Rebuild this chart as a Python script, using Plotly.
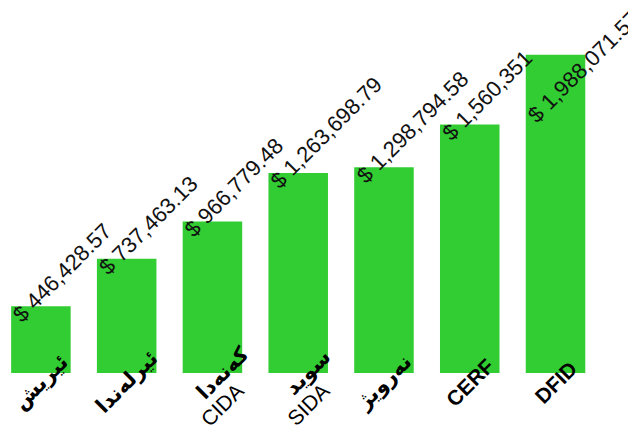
import plotly.graph_objects as go

categories = ["ئیریش", "ئیرلەندا", "کەنەدا", "سوید", "نەرویژ", "CERF", "DFID"]
agencies = ["", "", "CIDA", "SIDA", "", "", ""]
values = [446428.57, 737463.13, 966779.48, 1263698.79, 1298794.58, 1560351, 1988071.57]


def fmt(v):
    s = f"{v:,.2f}"
    if s.endswith(".00"):
        s = s[:-3]
    return "$ " + s


value_labels = [fmt(v) for v in values]

LABEL_CAP = 1670000  # value labels are kept inside the figure
FONT = "Liberation Sans, Arial, DejaVu Sans, sans-serif"
LINE_H = 23
D = 0.7071  # cos/sin of 45 degrees

xs = list(range(len(values)))

fig = go.Figure(
    go.Bar(
        x=xs,
        y=values,
        marker=dict(color="#32CD32", line=dict(width=0)),
        hoverinfo="skip",
    )
)

# value labels, rotated, starting at the top-left of each bar
for i, v, t in zip(xs, values, value_labels):
    fig.add_annotation(
        x=i,
        y=min(v, LABEL_CAP),
        xref="x",
        yref="y",
        text=t,
        showarrow=False,
        textangle=-45,
        xanchor="left",
        yanchor="bottom",
        xshift=-34,
        yshift=-22,
        borderpad=0,
        font=dict(family=FONT, size=22, color="#111111"),
    )


def add_line(i, text, along, down, weight):
    # along: offset along the text direction, down: offset across it (px)
    fig.add_annotation(
        x=i,
        y=0,
        xref="x",
        yref="paper",
        text=text,
        showarrow=False,
        textangle=-45,
        xanchor="center",
        yanchor="middle",
        xshift=D * along + D * down,
        yshift=-9 + D * along - D * down,
        borderpad=0,
        font=dict(family=FONT, size=21, color="black", weight=weight),
    )


# category labels, rotated under each bar
for i, c, a in zip(xs, categories, agencies):
    if a:
        add_line(i, c, 14, 0, "bold")
        add_line(i, a, -9, LINE_H, "normal")
    else:
        add_line(i, c, 0, 0, "bold")

fig.update_layout(
    width=628,
    height=420,
    margin=dict(l=0, r=28, t=12, b=55, autoexpand=False),
    paper_bgcolor="white",
    plot_bgcolor="white",
    bargap=0.306,
    showlegend=False,
    font=dict(family=FONT, color="black"),
    xaxis=dict(
        range=[-0.3836, 6.612],
        showgrid=False,
        zeroline=False,
        showline=False,
        ticks="",
        showticklabels=False,
    ),
    yaxis=dict(visible=False, range=[36800, 2201900]),
)

fig.write_html("out.html")
